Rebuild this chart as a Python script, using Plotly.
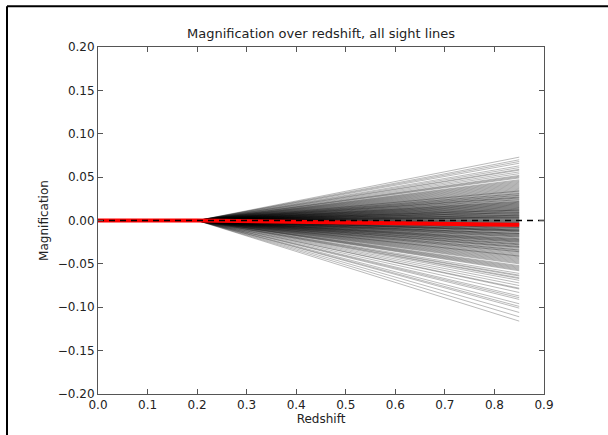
import plotly.graph_objects as go

# ---- data ----
sight_z = [0.0, 0.2, 0.85]          # redshift knots for every sight line
end_mag = [
    0.073, 0.070, 0.066, 0.063, 0.061, 0.058, 0.056, 0.054, 0.052, 0.050,
    0.049, 0.047, 0.045, 0.044, 0.042, 0.041, 0.039, 0.038, 0.036, 0.035,
    0.034, 0.033, 0.031, 0.030, 0.029, 0.028, 0.027, 0.026, 0.025, 0.024,
    0.023, 0.022, 0.021, 0.020, 0.020, 0.019, 0.018, 0.017, 0.016, 0.015,
    0.015, 0.014, 0.013, 0.012, 0.012, 0.011, 0.010, 0.009, 0.009, 0.008,
    0.007, 0.006, 0.006, 0.005, 0.004, 0.003, 0.003, 0.002, 0.001, 0.000,
    -0.001, -0.002, -0.002, -0.003, -0.004, -0.005, -0.005, -0.006, -0.007, -0.008,
    -0.008, -0.009, -0.010, -0.011, -0.011, -0.012, -0.013, -0.014, -0.015, -0.015,
    -0.016, -0.017, -0.018, -0.019, -0.020, -0.021, -0.022, -0.023, -0.024, -0.025,
    -0.026, -0.027, -0.028, -0.029, -0.030, -0.031, -0.032, -0.034, -0.035, -0.036,
    -0.038, -0.039, -0.041, -0.042, -0.044, -0.046, -0.048, -0.050, -0.052, -0.054,
    -0.056, -0.058, -0.061, -0.063, -0.066, -0.069, -0.072, -0.075, -0.079, -0.083,
    -0.087, -0.091, -0.096, -0.101, -0.106, -0.111, -0.116,
    # denser core
    0.043, 0.037, 0.032, 0.027, 0.024, 0.021, 0.018, 0.016, 0.014, 0.012,
    0.010, 0.008, 0.007, 0.005, 0.004, 0.002, 0.001, -0.001, -0.003, -0.004,
    -0.006, -0.007, -0.009, -0.010, -0.012, -0.013, -0.015, -0.017, -0.019, -0.021,
    -0.023, -0.025, -0.028, -0.031, -0.034, -0.037, -0.040, -0.045, -0.049, -0.055,
    0.029, 0.019, 0.011, 0.006, 0.003, -0.002, -0.005, -0.011, -0.016, -0.022,
    -0.027, -0.033, -0.043, -0.053, -0.064,
    0.068, 0.059, 0.051, 0.046, 0.040, 0.034, 0.031, 0.026, 0.022, 0.017,
    0.013, 0.009, 0.004, -0.000, -0.004, -0.008, -0.012, -0.018, -0.024, -0.030,
    -0.036, -0.041, -0.047, -0.057, -0.067, -0.078, -0.089, -0.099,
]
mean_z = [0.0, 0.2, 0.85]
mean_mag = [0.0, 0.0, -0.005]
zero_z = [0.0, 0.9]
zero_mag = [0.0, 0.0]

x_ticks = [0.0, 0.1, 0.2, 0.3, 0.4, 0.5, 0.6, 0.7, 0.8, 0.9]
x_ticktext = ["0.0", "0.1", "0.2", "0.3", "0.4", "0.5", "0.6", "0.7", "0.8", "0.9"]
y_ticks = [-0.20, -0.15, -0.10, -0.05, 0.0, 0.05, 0.10, 0.15, 0.20]
y_ticktext = ["\u22120.20", "\u22120.15", "\u22120.10", "\u22120.05", "0.00",
              "0.05", "0.10", "0.15", "0.20"]

fig = go.Figure()
for e in end_mag:
    fig.add_trace(go.Scatter(
        x=sight_z, y=[0.0, 0.0, e], mode="lines",
        line=dict(color="rgba(0,0,0,0.27)", width=1),
        hoverinfo="skip", showlegend=False))

fig.add_trace(go.Scatter(x=mean_z, y=mean_mag, mode="lines",
                         line=dict(color="#ff0000", width=4), showlegend=False))
fig.add_trace(go.Scatter(x=zero_z, y=zero_mag, mode="lines",
                         line=dict(color="black", width=1.3, dash="6px,5px"),
                         showlegend=False))

axis_common = dict(showgrid=False, zeroline=False, showline=True, linecolor="#555",
                   linewidth=1, mirror="ticks", ticks="inside", ticklen=5,
                   tickcolor="#555", tickfont=dict(size=12, color="#222"))

fig.update_layout(
    width=608, height=435,
    margin=dict(l=98, r=64, t=47, b=39),
    paper_bgcolor="white", plot_bgcolor="white",
    font=dict(family="DejaVu Sans", color="#222"),
    title=dict(text="Magnification over redshift, all sight lines",
               x=(98 + 544) / 2 / 608, xanchor="center", y=1 - 38 / 435,
               yanchor="bottom", font=dict(size=13)),
    xaxis=dict(range=[0, 0.9], tickvals=x_ticks, ticktext=x_ticktext,
               title=dict(text="Redshift", font=dict(size=12), standoff=2), **axis_common),
    yaxis=dict(range=[-0.2, 0.2], tickvals=y_ticks, ticktext=y_ticktext,
               title=dict(text="Magnification", font=dict(size=12), standoff=6), **axis_common),
    shapes=[
        dict(type="line", xref="paper", yref="paper",
             x0=(7 - 98) / 446, x1=(608 - 98) / 446,
             y0=(396 - 6) / 349, y1=(396 - 6) / 349,
             line=dict(color="black", width=2)),
        dict(type="line", xref="paper", yref="paper",
             x0=(7 - 98) / 446, x1=(7 - 98) / 446,
             y0=(396 - 6) / 349, y1=(396 - 440) / 349,
             line=dict(color="black", width=2)),
    ],
)

fig.write_html("out.html", config={"displayModeBar": False},
               post_script="document.body.style.margin='0px';")
